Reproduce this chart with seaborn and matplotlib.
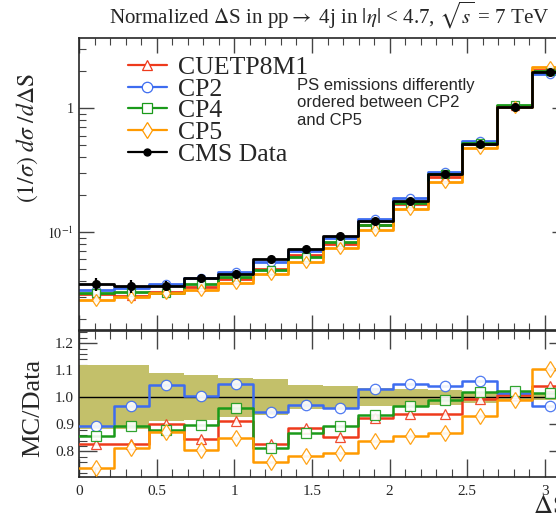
import numpy as np
import matplotlib
matplotlib.use("Agg")
import matplotlib.pyplot as plt
from matplotlib.lines import Line2D
from matplotlib.ticker import FixedLocator, MultipleLocator, NullFormatter, LogLocator
import seaborn as sns

# ---------------- data ----------------
bin_edges = np.linspace(0.0, np.pi, 15)
cms_data = [0.0379, 0.0367, 0.0367, 0.0423, 0.0456, 0.0606, 0.0729,
            0.0933, 0.1227, 0.178, 0.294, 0.513, 1.024, 1.94]
data_rel_unc = [0.118, 0.118, 0.088, 0.083, 0.073, 0.066, 0.045,
                0.042, 0.033, 0.031, 0.028, 0.021, 0.015, 0.012]
ratio_cuetp8m1 = [0.828, 0.828, 0.902, 0.847, 0.913, 0.827, 0.888,
                  0.853, 0.925, 0.939, 0.939, 0.994, 1.007, 1.043]
ratio_cp2 = [0.894, 0.969, 1.044, 1.003, 1.050, 0.947, 0.970,
             0.960, 1.031, 1.049, 1.043, 1.059, 1.016, 0.966]
ratio_cp4 = [0.855, 0.892, 0.880, 0.898, 0.959, 0.814, 0.867,
             0.892, 0.935, 0.966, 0.991, 1.018, 1.024, 1.016]
ratio_cp5 = [0.740, 0.814, 0.872, 0.806, 0.851, 0.759, 0.783,
             0.793, 0.839, 0.855, 0.867, 0.929, 0.991, 1.106]
mc_names = ["CUETP8M1", "CP2", "CP4", "CP5"]
mc_ratios = [ratio_cuetp8m1, ratio_cp2, ratio_cp4, ratio_cp5]
mc_colors = ["#ee3a1c", "#3d6cf0", "#1a9a1a", "#ff9a00"]
mc_markers = ["^", "o", "s", "d"]
mc_msizes = [6.0, 6.0, 5.5, 6.3]

# ---------------- style ----------------
sns.set_style("ticks")
plt.rcParams["font.family"] = ["Liberation Serif", "DejaVu Serif"]
plt.rcParams["mathtext.fontset"] = "stix"
plt.rcParams["xtick.direction"] = "in"
plt.rcParams["ytick.direction"] = "in"

fig = plt.figure(figsize=(5.56, 5.16), dpi=100)
W, H = 556.0, 516.0
xl, xr = 79.0, 567.0
ax = fig.add_axes([xl / W, 1 - 330 / H, (xr - xl) / W, (330 - 38) / H])
axr = fig.add_axes([xl / W, 1 - 477 / H, (xr - xl) / W, (477 - 331) / H])

centers = 0.5 * (bin_edges[:-1] + bin_edges[1:])
data = np.array(cms_data)
unc = np.array(data_rel_unc)


def stairs(axis, vals, color, lw, z):
    yy = np.append(vals, vals[-1])
    sns.lineplot(x=bin_edges, y=yy, drawstyle="steps-post", color=color,
                 linewidth=lw, estimator=None, sort=False, ax=axis, zorder=z,
                 legend=False)


# ---------------- top panel ----------------
for i, (r, c) in enumerate(zip(mc_ratios, mc_colors)):
    stairs(ax, np.array(r) * data, c, 2.0, 2 + i * 0.1)
for i, (r, c, m, ms) in enumerate(zip(mc_ratios, mc_colors, mc_markers, mc_msizes)):
    ax.plot(centers, np.array(r) * data, ls="none", marker=m, ms=ms,
            mfc="white", mec=c, mew=0.9, zorder=3 + i * 0.1, alpha=0.9)
stairs(ax, data, "black", 2.0, 4)
ax.errorbar(centers, data, yerr=unc * data, fmt="o", color="black",
            ms=5.5, elinewidth=1.6, capsize=0, zorder=5)
ax.set_yscale("log")
ax.set_xlim(0, np.pi)
ax.set_ylim(0.0162, 3.67)
ax.yaxis.set_major_locator(FixedLocator([0.1, 1.0]))
ax.set_yticklabels([r"$10^{-1}$", "1"])
ax.yaxis.set_minor_locator(LogLocator(base=10, subs=np.arange(2, 10)))
ax.yaxis.set_minor_formatter(NullFormatter())
ax.xaxis.set_major_locator(MultipleLocator(0.5))
ax.xaxis.set_minor_locator(MultipleLocator(0.1))
ax.tick_params(axis="x", which="both", labelbottom=False, top=True, bottom=True)
ax.tick_params(axis="y", which="both", left=True, right=True, labelsize=10)
ax.tick_params(which="major", length=11, width=1.0, color="#444444")
ax.tick_params(which="minor", length=5, width=0.8, color="#444444")
ax.set_xlabel("")
ax.set_ylabel("")
for s in ax.spines.values():
    s.set_linewidth(1.2)

# ---------------- ratio panel ----------------
lo = 1 - unc
hi = 1 + unc
axr.fill_between(bin_edges, np.append(lo, lo[-1]), np.append(hi, hi[-1]),
                 step="post", color="#c3c06a", linewidth=0, zorder=1)
axr.axhline(1.0, color="black", lw=1.0, zorder=2)
for i, (r, c) in enumerate(zip(mc_ratios, mc_colors)):
    stairs(axr, np.array(r), c, 1.8, 3 + i * 0.1)
for i, (r, c, m, ms) in enumerate(zip(mc_ratios, mc_colors, mc_markers, mc_msizes)):
    axr.plot(centers, r, ls="none", marker=m, ms=ms + 1.5,
             mfc="white", mec=c, mew=0.9, zorder=4 + i * 0.1, alpha=0.9)
axr.set_xlim(0, np.pi)
axr.set_ylim(0.705, 1.245)
axr.yaxis.set_major_locator(FixedLocator([0.8, 0.9, 1.0, 1.1, 1.2]))
axr.set_yticklabels(["0.8", "0.9", "1.0", "1.1", "1.2"])
axr.yaxis.set_minor_locator(MultipleLocator(0.02))
axr.xaxis.set_major_locator(MultipleLocator(0.5))
axr.xaxis.set_minor_locator(MultipleLocator(0.1))
axr.set_xticks([0, 0.5, 1, 1.5, 2, 2.5, 3])
axr.set_xticklabels(["0", "0.5", "1", "1.5", "2", "2.5", "3"])
axr.tick_params(axis="x", which="both", top=True, bottom=True, labelsize=11, pad=6)
axr.tick_params(axis="y", which="both", left=True, right=True, labelsize=11)
axr.tick_params(which="major", length=13, width=1.0, color="#444444")
axr.tick_params(which="minor", length=6, width=0.8, color="#444444")
axr.set_xlabel("")
axr.set_ylabel("")
for s in axr.spines.values():
    s.set_linewidth(1.2)

# ---------------- texts ----------------
fig.text(329 / W, 1 - 15 / H,
         r"Normalized $\Delta$S in pp$\rightarrow$ 4j in $|\eta|$ < 4.7, $\sqrt{s}$ = 7 TeV",
         ha="center", va="center", fontsize=15.1)
fig.text(27 / W, 1 - 138 / H, r"$(1/\sigma)\ d\sigma\ /d\Delta\mathrm{S}$",
         rotation=90, ha="center", va="center", fontsize=17)
fig.text(33 / W, 1 - 408 / H, "MC/Data", rotation=90, ha="center", va="center",
         fontsize=19)
fig.text(xr / W, 1 - 507 / H, r"$\Delta$S", ha="right", va="center", fontsize=19)
fig.text(297 / W, 1 - 78 / H, "PS emissions differently\nordered between CP2\nand CP5",
         ha="left", va="top", fontsize=12, family=["Liberation Sans", "DejaVu Sans"],
         linespacing=1.2)

handles = []
for c, m, ms, n in zip(mc_colors, mc_markers, mc_msizes, mc_names):
    handles.append(Line2D([], [], color=c, lw=1.6, marker=m, ms=ms + 1.5,
                          mfc="white", mec=c, mew=0.9, label=n))
handles.append(Line2D([], [], color="black", lw=1.6, marker="o", ms=5,
                      label="CMS Data"))
fig.legend(handles=handles, loc="upper left", bbox_to_anchor=(128 / W, 1 - 56 / H),
           frameon=False, fontsize=18.5, borderpad=0, borderaxespad=0,
           labelspacing=-0.05, handlelength=1.5, handletextpad=0.45)

fig.savefig("out.png", dpi=100)
